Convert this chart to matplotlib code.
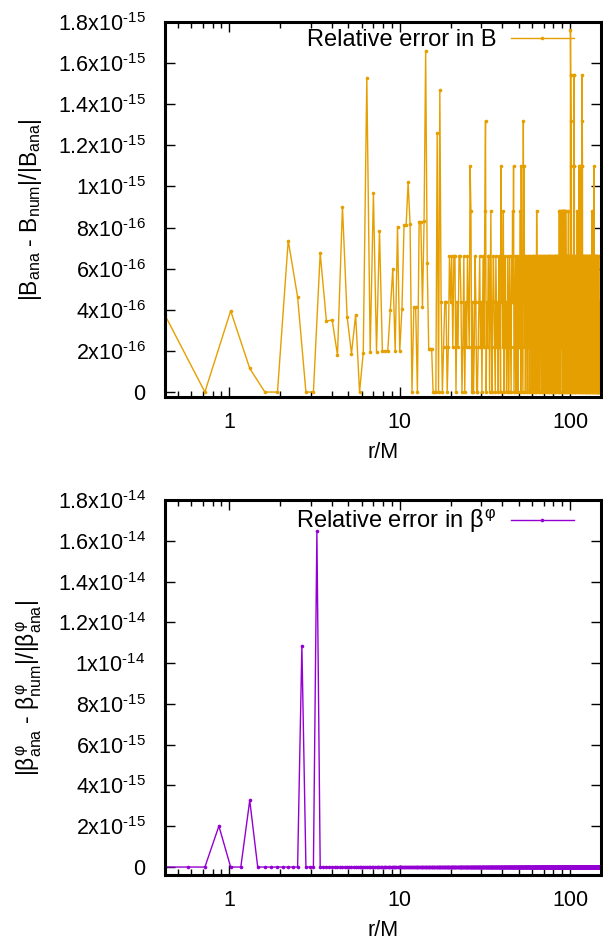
import numpy as np
import matplotlib
matplotlib.use("Agg")
import matplotlib.pyplot as plt
from matplotlib.ticker import FixedLocator, FixedFormatter, LogLocator, NullFormatter

plt.rcParams['font.family'] = 'Liberation Sans'
plt.rcParams['mathtext.fontset'] = 'custom'
plt.rcParams['mathtext.rm'] = 'Liberation Sans'
plt.rcParams['mathtext.it'] = 'Liberation Sans'
plt.rcParams['mathtext.bf'] = 'Liberation Sans:bold'
plt.rcParams['axes.unicode_minus'] = False

## Data
#
# radial grids (uniform spacing)
r_B_start, r_B_step, n_B = 0.42, 0.30, 505
r_beta_start, r_beta_step, n_beta = 0.42, 0.15, 1010

# relative error in B for the sparse part, r < 17 (units of 1e-16)
errB_inner = [3.74, 0, 3.95, 1.15, 0, 0, 7.37, 4.62, 0, 0,
              6.75, 3.45, 3.51, 1.79, 9.02, 3.66, 1.87, 3.76, 0, 1.92,
              15.3, 1.95, 9.67, 1.95, 7.85, 2.0, 2.0, 2.0, 3.98, 6.0,
              2.0, 8.05, 2.0, 4.05, 8.11, 8.11, 10.2, 8.18, 0, 4.13,
              4.13, 0, 8.29, 8.29, 4.15, 8.33, 16.6, 6.26, 2.11, 2.11,
              2.11, 0, 0, 0, 12.6, 0, 14.7]

# dense part (r > 17): error in multiples of machine epsilon, one digit per point
errB_levels = ("2012201323" "1330213320" "1302132154" "0201320012" "3120231460"
               "2133024102" "3210321203" "1205231402" "3120132013" "2103242501"
               "2301321023" "1240532106" "2513023120" "3213021320" "1320312302"
               "3102431203" "2130231230" "1320321302" "3123023103" "2310321320"
               "3123013203" "2130231230" "1323021320" "4134024314" "2403414204"
               "3412404320" "1320312340" "2301320877" "6513023102" "3157750231"
               "0321302314" "2031230135" "2035123051" "3205765130" "2310321302"
               "3120313201" "3203123021" "3023103213" "0231023130" "2431032130"
               "2351023102" "3102301230" "2130210321" "0213021021" "20121021")
eps_level = 2.2e-16

# relative error in beta^phi: zero everywhere except these points
beta_spike_idx = [3, 6, 15, 19]
beta_spike_val = [2.01e-15, 3.27e-15, 10.86e-15, 16.47e-15]

# axis ticks (gnuplot style "x10^-n" labels, short hyphen in the exponent)
yticks_B = [0, 2e-16, 4e-16, 6e-16, 8e-16, 1e-15, 1.2e-15, 1.4e-15, 1.6e-15, 1.8e-15]
ylabels_B = ['0', '2x10$^{\u201016}$', '4x10$^{\u201016}$', '6x10$^{\u201016}$',
             '8x10$^{\u201016}$', '1x10$^{\u201015}$', '1.2x10$^{\u201015}$',
             '1.4x10$^{\u201015}$', '1.6x10$^{\u201015}$', '1.8x10$^{\u201015}$']
yticks_beta = [0, 2e-15, 4e-15, 6e-15, 8e-15, 1e-14, 1.2e-14, 1.4e-14, 1.6e-14, 1.8e-14]
ylabels_beta = ['0', '2x10$^{\u201015}$', '4x10$^{\u201015}$', '6x10$^{\u201015}$',
                '8x10$^{\u201015}$', '1x10$^{\u201014}$', '1.2x10$^{\u201014}$',
                '1.4x10$^{\u201014}$', '1.6x10$^{\u201014}$', '1.8x10$^{\u201014}$']
xticks = [1, 10, 100]
xlabels = ['1', '10', '100']

## Build the series
r_B = r_B_start + r_B_step * np.arange(n_B)
errB = np.concatenate([np.array(errB_inner) * 1e-16,
                       np.array([int(c) for c in errB_levels]) * eps_level])

r_beta = r_beta_start + r_beta_step * np.arange(n_beta)
err_beta = np.zeros(n_beta)
err_beta[beta_spike_idx] = beta_spike_val

fs = 15.5

fig = plt.figure(figsize=(6.03, 9.46), dpi=100)
ax1 = fig.add_axes([165/603, 549/946, 436/603, 375/946])
ax2 = fig.add_axes([165/603, 71/946, 436/603, 375/946])


def style_axis(ax, yticks, ylabels, ylim):
    ax.set_xscale('log')
    ax.set_xlim(0.42, 152)
    ax.set_ylim(*ylim)
    ax.xaxis.set_major_locator(FixedLocator(xticks))
    ax.xaxis.set_major_formatter(FixedFormatter(xlabels))
    ax.xaxis.set_minor_locator(LogLocator(base=10, subs=np.arange(2, 10)))
    ax.xaxis.set_minor_formatter(NullFormatter())
    ax.yaxis.set_major_locator(FixedLocator(yticks))
    ax.yaxis.set_major_formatter(FixedFormatter(ylabels))
    ax.tick_params(which='both', direction='in', top=True, right=True, labelsize=fs)
    ax.tick_params(which='major', length=7, width=1.0)
    ax.tick_params(which='minor', length=4, width=1.0)
    ax.tick_params(axis='y', pad=14)
    ax.tick_params(axis='x', pad=11)
    for sp in ax.spines.values():
        sp.set_linewidth(2.2)
    ax.set_xlabel('r/M', fontsize=fs, labelpad=6)


leg_kw = dict(loc='upper right', frameon=False, markerfirst=False, fontsize=17,
              handlelength=2.65, handletextpad=0.6, borderaxespad=0.0, borderpad=0.0,
              bbox_to_anchor=(0.937, 0.98))

# Top panel: relative error in B
ax1.plot(r_B, errB, '-o', color='#E69F00', lw=1.0, ms=2.6, mew=0,
         label='Relative error in B')
style_axis(ax1, yticks_B, ylabels_B, (-2.4e-17, 1.8e-15))
ax1.set_ylabel(r'|$B_{ana}$ - $B_{num}$|/|$B_{ana}$|', fontsize=16.5, labelpad=10)
ax1.legend(**leg_kw)

# Bottom panel: relative error in beta^phi
ax2.plot(r_beta, err_beta, '-o', color='#9400D3', lw=1.0, ms=2.6, mew=0,
         label=r'Relative error in $β^{φ}$')
style_axis(ax2, yticks_beta, ylabels_beta, (-3.9e-16, 1.8e-14))
ax2.set_ylabel(r'|$β^{φ}_{ana}$ - $β^{φ}_{num}$|/|$β^{φ}_{ana}$|', fontsize=16.5, labelpad=10)
ax2.legend(**leg_kw)

fig.savefig('out.png', dpi=100)
